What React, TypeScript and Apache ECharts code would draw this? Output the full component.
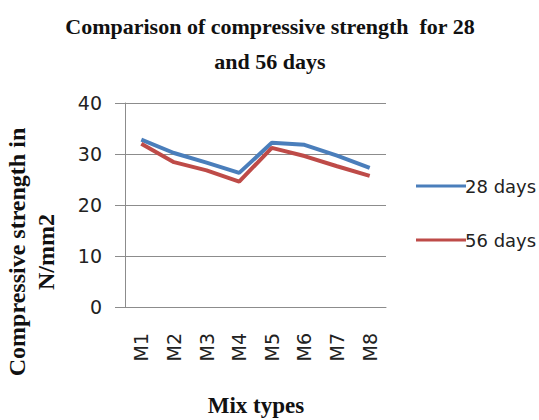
import React, { useEffect, useRef } from "react";
import * as echarts from "echarts";

const categories = ["M1", "M2", "M3", "M4", "M5", "M6", "M7", "M8"];
const days28 = [32.8, 30.2, 28.3, 26.3, 32.2, 31.8, 29.7, 27.3];
const days56 = [32.0, 28.4, 26.8, 24.6, 31.2, 29.6, 27.6, 25.7];
const seriesNames = ["28 days", "56 days"];
const yTicks = { min: 0, max: 40, interval: 10 };

const serif = "'Liberation Serif', 'DejaVu Serif', serif";
const sans = "'DejaVu Sans', 'Liberation Sans', sans-serif";

export default function App() {
  const ref = useRef<HTMLDivElement>(null);
  useEffect(() => {
    if (!ref.current) return;
    const chart = echarts.init(ref.current, undefined, { renderer: "svg" });
    chart.setOption({
      animation: false,
      backgroundColor: "#ffffff",
      title: {
        text: "Comparison of compressive strength  for 28\nand 56 days",
        left: 265,
        textAlign: "center",
        top: 4,
        textStyle: {
          fontFamily: serif,
          fontWeight: "bold",
          fontSize: 22,
          lineHeight: 35,
          color: "#111",
        },
      },
      grid: { left: 125, right: 153, top: 103, bottom: 113, containLabel: false },
      legend: {
        orient: "vertical",
        left: 411,
        top: 171,
        itemWidth: 50,
        itemHeight: 3,
        itemGap: 34,
        icon: "rect",
        data: seriesNames,
        textStyle: {
          fontFamily: sans,
          fontSize: 18,
          lineHeight: 20,
          color: "#222",
          padding: [0, 0, 0, -6],
        },
      },
      xAxis: {
        type: "category",
        data: categories,
        boundaryGap: true,
        axisLine: { show: true, lineStyle: { color: "#8c8c8c", width: 1 } },
        axisTick: { show: false },
        axisLabel: {
          rotate: 90,
          margin: 26,
          fontFamily: sans,
          fontSize: 19,
          color: "#222",
        },
      },
      yAxis: {
        type: "value",
        min: yTicks.min,
        max: yTicks.max,
        interval: yTicks.interval,
        axisLine: { show: true, lineStyle: { color: "#8c8c8c", width: 1 } },
        axisTick: { show: true, length: 10, lineStyle: { color: "#8c8c8c" } },
        splitLine: { show: true, lineStyle: { color: "#8c8c8c", width: 1 } },
        axisLabel: { margin: 23, fontFamily: sans, fontSize: 19, color: "#222" },
      },
      graphic: [
        {
          type: "text",
          x: 31,
          y: 252,
          rotation: Math.PI / 2,
          style: {
            text: "Compressive strength in\nN/mm2",
            fontFamily: serif,
            fontWeight: "bold",
            fontSize: 24,
            lineHeight: 29,
            fill: "#111",
            textAlign: "center",
            textVerticalAlign: "middle",
          },
        },
        {
          type: "text",
          x: 256,
          y: 405,
          style: {
            text: "Mix types",
            fontFamily: serif,
            fontWeight: "bold",
            fontSize: 23,
            fill: "#111",
            textAlign: "center",
            textVerticalAlign: "middle",
          },
        },
      ],
      series: [
        {
          name: seriesNames[0],
          type: "line",
          data: days28,
          symbol: "none",
          lineStyle: { color: "#4A7EBB", width: 4 },
          itemStyle: { color: "#4A7EBB" },
        },
        {
          name: seriesNames[1],
          type: "line",
          data: days56,
          symbol: "none",
          lineStyle: { color: "#BE4B48", width: 4 },
          itemStyle: { color: "#BE4B48" },
        },
      ],
    });
    return () => chart.dispose();
  }, []);
  return <div ref={ref} style={{ width: 539, height: 420, position: "absolute", left: 0, top: 0 }} />;
}
